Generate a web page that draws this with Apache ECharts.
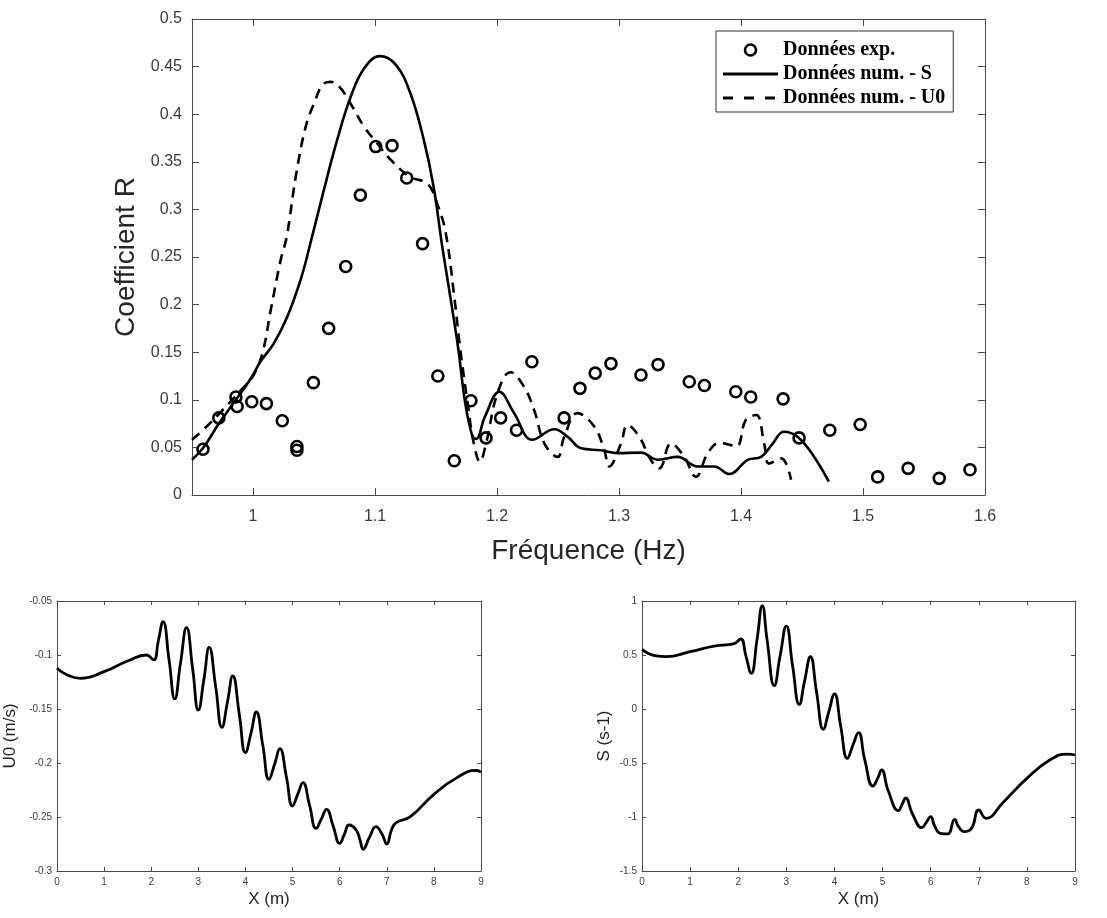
<!DOCTYPE html>
<html>
<head>
<meta charset="utf-8">
<script src="https://cdn.jsdelivr.net/npm/echarts@6/dist/echarts.min.js"></script>
<style>
html,body{margin:0;padding:0;background:#fff;}
#c{width:1107px;height:918px;}
</style>
</head>
<body>
<div id="c"></div>
<script>
// ---- Top chart: Coefficient R vs frequency ----
var freqTicks = [1, 1.1, 1.2, 1.3, 1.4, 1.5, 1.6];
var expX = [0.959,0.972,0.986,0.987,0.999,1.011,1.024,1.036,1.036,1.0495,1.062,1.076,1.088,1.1006,1.114,1.126,1.139,1.1515,1.165,1.1786,1.191,1.203,1.216,1.2286,1.255,1.268,1.2805,1.2934,1.318,1.332,1.3576,1.370,1.3957,1.408,1.4345,1.4476,1.4728,1.4977,1.512,1.537,1.5625,1.5877];
var expY = [0.048,0.081,0.103,0.093,0.098,0.096,0.078,0.051,0.047,0.118,0.175,0.240,0.315,0.366,0.367,0.333,0.264,0.125,0.036,0.099,0.060,0.081,0.068,0.140,0.081,0.112,0.128,0.138,0.126,0.137,0.119,0.115,0.1085,0.103,0.101,0.060,0.068,0.074,0.019,0.028,0.0175,0.0266];
var numSX = [0.95,0.96,0.972,0.986,0.999,1.006,1.017,1.028,1.039,1.046,1.058,1.069,1.080,1.091,1.104,1.117,1.129,1.140,1.148,1.155,1.160,1.168,1.174,1.180,1.183,1.190,1.202,1.214,1.229,1.247,1.258,1.269,1.285,1.299,1.318,1.332,1.348,1.3645,1.378,1.3905,1.4055,1.4165,1.426,1.435,1.4466,1.460,1.472];
var numSY = [0.037,0.051,0.075,0.100,0.124,0.140,0.159,0.187,0.226,0.259,0.320,0.373,0.418,0.448,0.461,0.452,0.422,0.373,0.324,0.262,0.222,0.156,0.096,0.061,0.059,0.082,0.1085,0.086,0.058,0.069,0.061,0.049,0.047,0.044,0.0445,0.037,0.040,0.030,0.030,0.022,0.037,0.040,0.054,0.0665,0.061,0.040,0.014];
var numUX = [0.95,0.962,0.972,0.99,1.0,1.0077,1.0145,1.0227,1.0276,1.035,1.0432,1.05,1.057,1.0637,1.0719,1.080,1.091,1.102,1.113,1.129,1.143,1.151,1.158,1.165,1.170,1.176,1.181,1.186,1.191,1.2004,1.211,1.222,1.2305,1.2389,1.2497,1.255,1.266,1.2797,1.288,1.292,1.3016,1.307,1.3167,1.326,1.333,1.3426,1.3535,1.363,1.3728,1.3825,1.396,1.404,1.4125,1.419,1.423,1.433,1.441];
var numUY = [0.058,0.072,0.085,0.110,0.125,0.149,0.194,0.247,0.271,0.334,0.387,0.411,0.431,0.434,0.427,0.411,0.387,0.369,0.352,0.334,0.327,0.306,0.275,0.208,0.152,0.096,0.054,0.035,0.054,0.107,0.129,0.114,0.089,0.054,0.040,0.061,0.086,0.072,0.047,0.030,0.054,0.0735,0.061,0.037,0.028,0.054,0.040,0.019,0.044,0.055,0.051,0.079,0.084,0.054,0.033,0.0385,0.016];

// ---- Bottom-left: U0 vs X ----
var u0X = [0,0.2,0.5,1,1.5,1.9,2.05,2.15,2.25,2.38,2.5,2.62,2.75,2.88,3.0,3.12,3.23,3.37,3.5,3.62,3.73,3.87,4.0,4.12,4.23,4.37,4.5,4.62,4.73,4.87,5.0,5.11,5.22,5.36,5.5,5.61,5.72,5.86,6.0,6.1,6.2,6.35,6.43,6.5,6.63,6.77,6.9,7.0,7.1,7.2,7.5,8.0,8.5,8.9,9.0];
var u0Y = [-0.1123,-0.118,-0.1216,-0.1154,-0.1056,-0.100,-0.1046,-0.087,-0.0691,-0.105,-0.1407,-0.108,-0.0747,-0.113,-0.151,-0.122,-0.0929,-0.130,-0.167,-0.143,-0.1194,-0.155,-0.1904,-0.172,-0.1528,-0.184,-0.2151,-0.201,-0.1867,-0.213,-0.2398,-0.229,-0.2182,-0.239,-0.2605,-0.252,-0.2429,-0.258,-0.2744,-0.266,-0.2574,-0.262,-0.271,-0.2799,-0.269,-0.259,-0.266,-0.275,-0.262,-0.2553,-0.2497,-0.229,-0.2133,-0.2068,-0.2086];

// ---- Bottom-right: S vs X ----
var sX = [0,0.3,0.5,1,1.5,1.9,2.05,2.16,2.27,2.39,2.5,2.6,2.75,2.87,3.0,3.13,3.27,3.38,3.5,3.63,3.77,3.88,4.0,4.13,4.27,4.38,4.5,4.63,4.8,4.9,4.98,5.12,5.33,5.41,5.48,5.62,5.82,5.91,6.0,6.08,6.2,6.35,6.5,6.58,6.7,6.85,7.0,7.15,7.5,8.0,8.5,8.85,9.0];
var sY = [0.5525,0.491,0.4846,0.531,0.583,0.602,0.648,0.49,0.330,0.64,0.954,0.64,0.216,0.49,0.768,0.40,0.043,0.26,0.484,0.15,-0.188,-0.03,0.139,-0.16,-0.457,-0.34,-0.219,-0.47,-0.713,-0.64,-0.565,-0.76,-0.941,-0.88,-0.824,-0.97,-1.099,-1.05,-0.997,-1.08,-1.151,-1.157,-1.022,-1.09,-1.136,-1.105,-0.935,-1.012,-0.867,-0.642,-0.466,-0.417,-0.426];

function pairs(xs, ys){ return xs.map(function(x,i){ return [x, ys[i]]; }); }

var AX = '#4a4a4a';
var LBL = '#3a3a3a';
var FONT = 'Liberation Sans, Arial, sans-serif';

function xAxes(gi, min, max, opts){
  var big = opts.big;
  var base = {
    type:'value', gridIndex:gi, min:min, max:max,
    axisLine:{show:true, onZero:false, lineStyle:{color:AX, width:1}},
    axisTick:{show:true, inside:true, length: big?7:4, lineStyle:{color:AX}},
    splitLine:{show:false}
  };
  if (opts.interval) base.interval = opts.interval;
  var bottom = Object.assign({}, base, {
    position:'bottom',
    name: opts.name, nameLocation:'middle', nameGap: opts.nameGap,
    nameTextStyle:{fontFamily:FONT, fontSize: opts.nameSize, color:'#262626'},
    axisLabel:{show:true, fontFamily:FONT, fontSize: big?16:10, color:LBL, margin: big?14:6}
  });
  var top = Object.assign({}, base, {position:'top', axisLabel:{show:false}});
  if (opts.custom){
    bottom.axisLabel.customValues = opts.custom;
    bottom.axisTick = Object.assign({}, base.axisTick, {customValues: opts.custom});
    top.axisTick = Object.assign({}, base.axisTick, {customValues: opts.custom});
  }
  return [bottom, top];
}
function yAxes(gi, min, max, interval, opts){
  var big = opts.big;
  var base = {
    type:'value', gridIndex:gi, min:min, max:max, interval:interval,
    axisLine:{show:true, onZero:false, lineStyle:{color:AX, width:1}},
    axisTick:{show:true, inside:true, length: big?7:4, lineStyle:{color:AX}},
    splitLine:{show:false}
  };
  var left = Object.assign({}, base, {
    position:'left',
    name: opts.name, nameLocation:'middle', nameGap: opts.nameGap, nameRotate:90,
    nameTextStyle:{fontFamily:FONT, fontSize: opts.nameSize, color:'#262626'},
    axisLabel:{show:true, fontFamily:FONT, fontSize: big?16:10, color:LBL, margin: big?10:5}
  });
  var right = Object.assign({}, base, {position:'right', axisLabel:{show:false}});
  return [left, right];
}

var xa = [].concat(
  xAxes(0, 0.95, 1.6, {big:true, custom:freqTicks, name:'Fréquence (Hz)', nameGap:42, nameSize:28}),
  xAxes(1, 0, 9, {big:false, interval:1, name:'X (m)', nameGap:20, nameSize:17}),
  xAxes(2, 0, 9, {big:false, interval:1, name:'X (m)', nameGap:20, nameSize:17})
);
var ya = [].concat(
  yAxes(0, 0, 0.5, 0.05, {big:true, name:'Coefficient R', nameGap:50, nameSize:28}),
  yAxes(1, -0.3, -0.05, 0.05, {big:false, name:'U0 (m/s)', nameGap:38, nameSize:17}),
  yAxes(2, -1.5, 1, 0.5, {big:false, name:'S (s-1)', nameGap:29, nameSize:17})
);

var SOLID_ICON = 'path://M0,0H55V3H0Z';
var DASH_ICON = 'path://M0,0H10V3H0Z M21,0H31V3H21Z M42,0H52V3H42Z M54.9,0H55V3H54.9Z';

var chart = echarts.init(document.getElementById('c'), null, {renderer:'canvas'});
chart.setOption({
  animation:false,
  backgroundColor:'#fff',
  grid:[
    {left:192, top:19, width:793, height:476},
    {left:57, top:601, width:424, height:270},
    {left:642, top:601, width:433, height:270}
  ],
  xAxis: xa,
  yAxis: ya,
  legend:{
    show:true, orient:'vertical', left:716, top:31,
    padding:[9,8,4,7], itemGap:4, itemWidth:55, itemHeight:11,
    backgroundColor:'#fff', borderColor:'#333', borderWidth:1,
    textStyle:{fontFamily:'Liberation Serif, Times New Roman, serif', fontWeight:'bold', fontSize:20, color:'#000'},
    data:[
      {name:'Données exp.', icon:'circle', itemStyle:{color:'#fff', borderColor:'#000', borderWidth:2.6, opacity:1}},
      {name:'Données num. - S', icon:SOLID_ICON, itemStyle:{color:'#000', borderWidth:0}},
      {name:'Données num. - U0', icon:DASH_ICON, itemStyle:{color:'#000', borderWidth:0}}
    ]
  },
  series:[
    {
      name:'Données exp.', type:'scatter', xAxisIndex:0, yAxisIndex:0,
      symbol:'circle', symbolSize:11, z:5,
      itemStyle:{color:'rgba(255,255,255,0)', borderColor:'#000', borderWidth:2.6, opacity:1},
      data: pairs(expX, expY)
    },
    {
      name:'Données num. - S', type:'line', xAxisIndex:0, yAxisIndex:0,
      showSymbol:false, symbol:'none', smooth:0.4,
      lineStyle:{color:'#000', width:2.6, type:'solid'},
      itemStyle:{color:'#000'},
      data: pairs(numSX, numSY)
    },
    {
      name:'Données num. - U0', type:'line', xAxisIndex:0, yAxisIndex:0,
      showSymbol:false, symbol:'none', smooth:0.4,
      lineStyle:{color:'#000', width:2.6, type:[10,7]},
      itemStyle:{color:'#000'},
      data: pairs(numUX, numUY)
    },
    {
      name:'U0', type:'line', xAxisIndex:2, yAxisIndex:2,
      showSymbol:false, symbol:'none', smooth:0.5,
      lineStyle:{color:'#000', width:2.8},
      data: pairs(u0X, u0Y)
    },
    {
      name:'S', type:'line', xAxisIndex:4, yAxisIndex:4,
      showSymbol:false, symbol:'none', smooth:0.5,
      lineStyle:{color:'#000', width:2.8},
      data: pairs(sX, sY)
    }
  ]
});
</script>
</body>
</html>
